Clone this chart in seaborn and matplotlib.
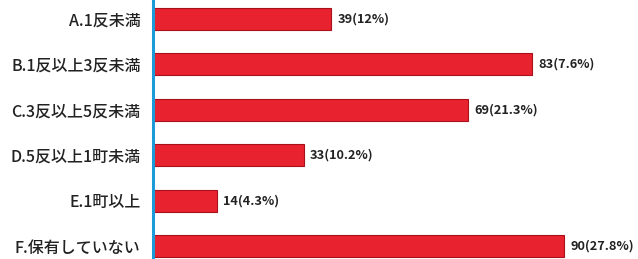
import pandas as pd
import seaborn as sns
import matplotlib.pyplot as plt

# data
categories = ["A.1反未満", "B.1反以上3反未満", "C.3反以上5反未満",
              "D.5反以上1町未満", "E.1町以上", "F.保有していない"]
counts = [39, 83, 69, 33, 14, 90]
value_labels = ["39(12%)", "83(7.6%)", "69(21.3%)", "33(10.2%)", "14(4.3%)", "90(27.8%)"]

df = pd.DataFrame({"category": categories, "count": counts})

sns.set_style("white")
plt.rcParams["font.family"] = ["Noto Sans CJK JP", "DejaVu Sans"]

fig = plt.figure(figsize=(6.38, 2.59), dpi=100)
ax = fig.add_axes([0.24, 0.0, 0.76, 1.0])

sns.barplot(data=df, y="category", x="count", orient="h", ax=ax,
            color="#e8232f", edgecolor="#a8101c", linewidth=0.8,
            width=0.48, saturation=1)

ax.bar_label(ax.containers[0], labels=value_labels, padding=4.5,
             fontsize=9.2, fontweight="bold", color="#222222")

ax.set_xlim(0, 106.1)
ax.set_ylim(5.286, -0.418)
ax.set_xlabel("")
ax.set_ylabel("")
ax.set_xticks([])
ax.tick_params(axis="y", length=0, pad=9, labelsize=11.5, labelcolor="#222222")
for lbl in ax.get_yticklabels():
    lbl.set_fontweight("medium")

for side in ["top", "right", "bottom"]:
    ax.spines[side].set_visible(False)
ax.spines["left"].set_color("#1d9ad8")
ax.spines["left"].set_linewidth(2.2)

fig.savefig("out.png", dpi=100)
